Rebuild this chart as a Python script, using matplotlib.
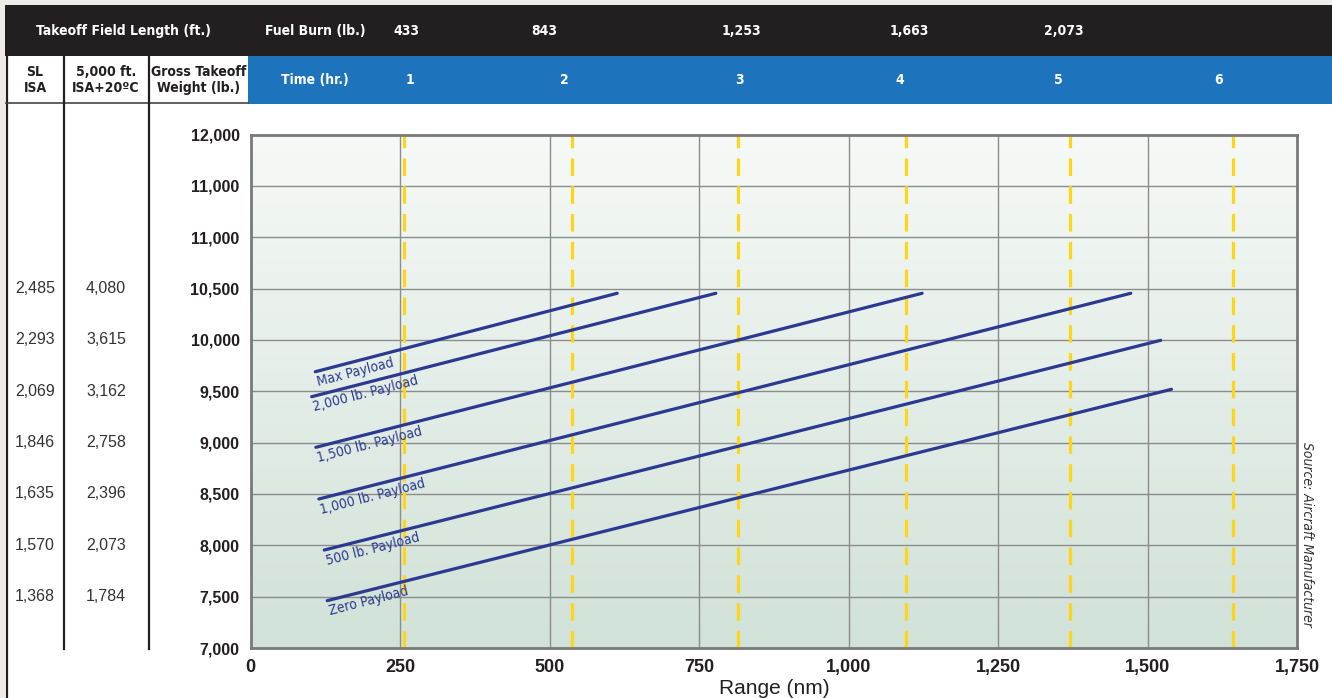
import numpy as np
import matplotlib
matplotlib.use("Agg")
import matplotlib.pyplot as plt
import matplotlib.transforms as mtransforms
from matplotlib.patches import Rectangle
from matplotlib.colors import LinearSegmentedColormap
from matplotlib import font_manager

# ── Data ──
PAYLOADS = ["Max Payload", "2,000 lb. Payload", "1,500 lb. Payload",
            "1,000 lb. Payload", "500 lb. Payload", "Zero Payload"]
RANGE_START = [108, 102, 109, 114, 123, 128]
GTOW_START = [9690, 9447, 8954, 8451, 7954, 7461]
RANGE_END = [613, 778, 1123, 1472, 1522, 1540]
GTOW_END = [10454, 10454, 10454, 10454, 9996, 9519]

# range reached at each whole hour (yellow dashed lines)
HOUR_RANGE = [256, 537, 815, 1096, 1370, 1643]
TIME_LABELS = ["1", "2", "3", "4", "5", "6"]
FUEL_BURN = ["433", "843", "1,253", "1,663", "2,073"]

Y_TICKS = [7000, 7500, 8000, 8500, 9000, 9500, 10000, 10500, 11000, 11500, 12000]
Y_TICK_LABELS = ["7,000", "7,500", "8,000", "8,500", "9,000", "9,500",
                 "10,000", "10,500", "11,000", "11,000", "12,000"]
X_TICKS = [0, 250, 500, 750, 1000, 1250, 1500, 1750]
X_TICK_LABELS = ["0", "250", "500", "750", "1,000", "1,250", "1,500", "1,750"]

# takeoff field length table rows (aligned with GTOW rows)
TOFL_GTOW = [10500, 10000, 9500, 9000, 8500, 8000, 7500]
TOFL_SL_ISA = ["2,485", "2,293", "2,069", "1,846", "1,635", "1,570", "1,368"]
TOFL_5000_ISA20 = ["4,080", "3,615", "3,162", "2,758", "2,396", "2,073", "1,784"]

# ── Style ──
W, H = 1332, 698
installed = {f.name for f in font_manager.fontManager.ttflist}
condensed = [f.name for f in font_manager.fontManager.ttflist
             if f.stretch in ("condensed", "semi-condensed", "extra-condensed")
             or "Narrow" in f.name or "Condensed" in f.name]
if "Liberation Sans Narrow" in installed:
    NARROW = dict(family=["Liberation Sans Narrow", "DejaVu Sans"])
elif condensed:
    NARROW = dict(family=[condensed[0], "DejaVu Sans"], stretch="condensed")
else:
    NARROW = dict(family=["Liberation Sans", "DejaVu Sans"])
plt.rcParams["font.family"] = ["Liberation Sans", "DejaVu Sans"]
NAVY = "#2b3990"
YELLOW = "#ffd617"
DARK = "#231f20"
BLUE = "#1e74bc"
GRID = "#8c8c8c"

fig = plt.figure(figsize=(W / 100, H / 100), dpi=100)
fig.patch.set_facecolor("white")

# overlay in pixel coordinates for the header table
ov = fig.add_axes([0, 0, 1, 1], zorder=0)
ov.set_xlim(0, W)
ov.set_ylim(H, 0)
ov.axis("off")

ov.add_patch(Rectangle((0, 0), W, 5, color="#eeebe8", lw=0))
ov.add_patch(Rectangle((0, 0), 5, H, color="#eeebe8", lw=0))
ov.add_patch(Rectangle((5, 5), W - 5, 51, color=DARK, lw=0))
ov.add_patch(Rectangle((248, 56), W - 248, 48, color=BLUE, lw=0))
ov.plot([6.5, 6.5], [56, H], color=DARK, lw=1.6)
ov.plot([6, 248], [103, 103], color="#444444", lw=1.2)
for xs in (64, 149):
    ov.plot([xs, xs], [56, 649], color=DARK, lw=1.6)

hdr = dict(color="white", fontsize=10, fontweight="bold", ha="center", va="center", **NARROW)
ov.text(123, 31, "Takeoff Field Length (ft.)", **hdr)
ov.text(315, 31, "Fuel Burn (lb.)", **hdr)
ov.text(315, 80, "Time (hr.)", **hdr)
fuel_x = [406, 544, 741, 909, 1064]
time_x = [410, 564, 740, 900, 1058, 1219]
for x, lab in zip(fuel_x, FUEL_BURN):
    ov.text(x, 31, lab, **hdr)
for x, lab in zip(time_x, TIME_LABELS):
    ov.text(x, 80, lab, **hdr)

cell = dict(color="#231f20", fontsize=10, fontweight="bold", ha="center",
            va="center", linespacing=1.25, **NARROW)
ov.text(35, 80, "SL\nISA", **cell)
ov.text(106, 80, "5,000 ft.\nISA+20\u00baC", **cell)
ov.text(199, 80, "Gross Takeoff\nWeight (lb.)", **cell)

# conditions box
ov.add_patch(Rectangle((817, 530), 359, 51, facecolor="white", edgecolor="#222222",
                       lw=1.8, zorder=5))
ov.text(898, 545, "Conditions:", ha="right", va="center", fontsize=10.5,
        fontweight="bold", color="#111111", zorder=6, **NARROW)
ov.text(902, 545, "Single Pilot, NBAA IFR reserves (100 nm)", ha="left",
        va="center", fontsize=10.5, color="#222222", zorder=6, **NARROW)
ov.text(902, 566, "Zero Wind, ISA, High Speed Cruise", ha="left",
        va="center", fontsize=10.5, color="#222222", zorder=6, **NARROW)

ov.text(1307, 442, "Source: Aircraft Manufacturer", rotation=270, ha="center",
        va="top", fontsize=10, style="italic", color="#333333", **NARROW)

# ── Main chart ──
x0, y0, x1, y1 = 250.7, 134.5, 1297, 648
ax = fig.add_axes([x0 / W, 1 - y1 / H, (x1 - x0) / W, (y1 - y0) / H], zorder=2)
ax.patch.set_alpha(0)

cmap = LinearSegmentedColormap.from_list("bg", ["#f6f9f7", "#d1e2d8"])
ax.imshow(np.linspace(0, 1, 256).reshape(-1, 1), cmap=cmap, aspect="auto",
          extent=[0, 1750, 7000, 12000], origin="upper", zorder=0)

ax.set_xlim(0, 1750)
ax.set_ylim(7000, 12000)
ax.set_xticks(X_TICKS)
ax.set_xticklabels(X_TICK_LABELS, fontsize=13, fontweight="bold", color="#231f20")
ax.set_yticks(Y_TICKS)
ax.set_yticklabels(Y_TICK_LABELS, fontsize=11.5, fontweight="bold", color="#231f20")
ax.tick_params(length=0, pad=8)
ax.grid(True, color=GRID, lw=1.0, zorder=1)
ax.set_axisbelow(True)
for s in ax.spines.values():
    s.set_color("#7a7a7a")
    s.set_linewidth(2.0)

for r in HOUR_RANGE:
    ax.axvline(r, color=YELLOW, lw=2.3, dashes=(5.5, 3.2), zorder=2)

for name, xa, ya, xb, yb in zip(PAYLOADS, RANGE_START, GTOW_START, RANGE_END, GTOW_END):
    ax.plot([xa, xb], [ya, yb], color=NAVY, lw=2.3, solid_capstyle="round", zorder=3)
    ax.annotate(name, xy=(xa, ya), xytext=(0, -3), textcoords="offset points",
                rotation=14.5, rotation_mode="anchor", ha="left", va="top",
                fontsize=10, color=NAVY, zorder=4, **NARROW)

ax.set_xlabel("Range (nm)", fontsize=15, color="#231f20", labelpad=2)

# takeoff field length columns, aligned with GTOW rows
tr = mtransforms.blended_transform_factory(ov.transData, ax.transData)
for g, sl, hot in zip(TOFL_GTOW, TOFL_SL_ISA, TOFL_5000_ISA20):
    ax.text(35, g, sl, transform=tr, ha="center", va="center", fontsize=11.5,
            color="#333333", clip_on=False)
    ax.text(106, g, hot, transform=tr, ha="center", va="center", fontsize=11.5,
            color="#333333", clip_on=False)

fig.savefig("out.png", dpi=100)
